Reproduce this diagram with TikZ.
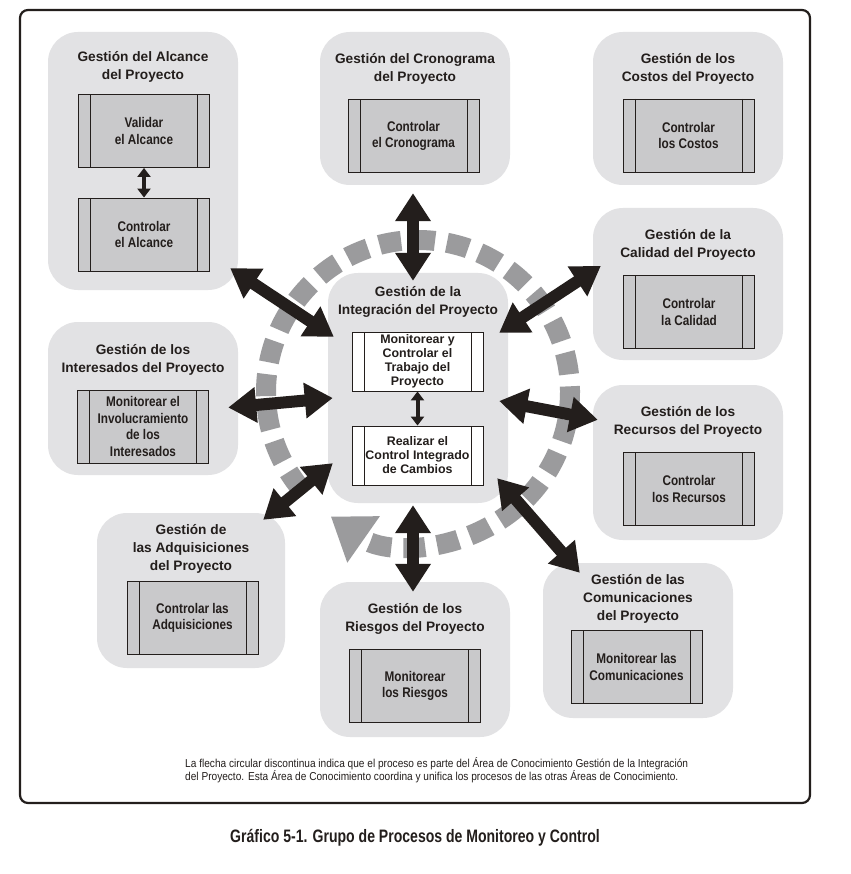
\documentclass[tikz,border=0pt]{standalone}
\usepackage{fontspec}
\setmainfont{Liberation Sans}
\newfontfamily\procfont{Liberation Sans}[FakeStretch=0.84]
\newfontfamily\notefont{Liberation Sans}[FakeStretch=0.88]
\newfontfamily\capfont{Liberation Sans}[FakeStretch=0.78]
\usetikzlibrary{positioning,arrows.meta,calc}

\definecolor{areafill}{RGB}{226,226,228}
\definecolor{procfill}{RGB}{201,201,203}
\definecolor{ringgray}{RGB}{155,155,157}
\definecolor{ink}{RGB}{35,30,28}

\begin{document}
\begin{tikzpicture}[x=1pt, y=-1pt,
    area/.style={fill=areafill, rounded corners=30pt, inner sep=0, minimum width=190pt},
    title/.style={font=\bfseries\fontsize{13.7}{18}\selectfont, text=ink, align=center, inner sep=0},
    proc/.style={draw=ink, line width=0.9pt, fill=procfill, minimum width=131pt, minimum height=73pt,
                 inner sep=0, align=center, text=ink, font=\procfont\bfseries\fontsize{14}{16.5}\selectfont,
                 path picture={\draw[ink, line width=0.9pt]
                     ([xshift=12pt]path picture bounding box.north west) -- ([xshift=12pt]path picture bounding box.south west)
                     ([xshift=-12pt]path picture bounding box.north east) -- ([xshift=-12pt]path picture bounding box.south east);}},
    intproc/.style={proc, fill=white, minimum height=59pt, font=\bfseries\fontsize{12.4}{14}\selectfont},
    bigarrow/.style={draw=ink, line width=12pt, {Triangle[length=28pt,width=34pt]}-{Triangle[length=28pt,width=34pt]}},
    smallarrow/.style={draw=ink, line width=4pt, {Triangle[length=9pt,width=13pt]}-{Triangle[length=9pt,width=13pt]}}]

    \useasboundingbox (0,0) rectangle (850,874);
    \fill[white] (0,0) rectangle (850,874);
    \draw[ink, line width=2.2pt, rounded corners=8pt] (20,10) rectangle (810,803);

    % dashed ring of the integration area
    \coordinate (hub) at (418,392);
    \draw[ringgray, line width=20pt, dash pattern=on 22pt off 12pt, -{Triangle[length=40pt,width=54pt]}]
        (hub) ++(140:152) arc[start angle=140, end angle=485, radius=152];

    % knowledge areas
    \node (alcance) [area, minimum height=258pt] at (143,161) {};
    \node [title, below=19pt of alcance.north] {Gestión del Alcance\\del Proyecto};
    \node (valalc) [proc] at (144,131) {Validar\\el Alcance};
    \node (ctlalc) [proc] at (144,234.5) {Controlar\\el Alcance};

    \node (crono) [area, minimum height=153pt] at (415,108.5) {};
    \node [title, below=21pt of crono.north] {Gestión del Cronograma\\del Proyecto};
    \node (ctlcrono) [proc] at (413.5,136) {Controlar\\el Cronograma};

    \node (costos) [area, minimum height=153pt] at (688,108.5) {};
    \node [title, below=21pt of costos.north] {Gestión de los\\Costos del Proyecto};
    \node (ctlcostos) [proc] at (688.5,135.5) {Controlar\\los Costos};

    \node (calidad) [area, minimum height=152pt] at (688,284) {};
    \node [title, below=21pt of calidad.north] {Gestión de la\\Calidad del Proyecto};
    \node (ctlcal) [proc] at (689,312) {Controlar\\la Calidad};

    \node (interes) [area, minimum height=153pt] at (143,398.5) {};
    \node [title, below=22pt of interes.north] {Gestión de los\\Interesados del Proyecto};
    \node (monint) [proc] at (143,426.5) {Monitorear el\\Involucramiento\\de los\\Interesados};

    \node (recursos) [area, minimum height=155pt] at (688,462.5) {};
    \node [title, below=21pt of recursos.north] {Gestión de los\\Recursos del Proyecto};
    \node (ctlrec) [proc] at (689,489) {Controlar\\los Recursos};

    \node (adquis) [area, minimum width=188pt, minimum height=155pt] at (191,590.5) {};
    \node [title, below=11pt of adquis.north] {Gestión de\\las Adquisiciones\\del Proyecto};
    \node (ctladq) [proc] at (192.5,618) {Controlar las\\Adquisiciones};

    \node (riesgos) [area, minimum height=155pt] at (415,659.5) {};
    \node [title, below=21pt of riesgos.north] {Gestión de los\\Riesgos del Proyecto};
    \node (monries) [proc] at (415,686) {Monitorear\\los Riesgos};

    \node (comun) [area, minimum height=155pt] at (638,640.5) {};
    \node [title, below=11pt of comun.north] {Gestión de las\\Comunicaciones\\del Proyecto};
    \node (moncom) [proc] at (636.5,667) {Monitorear las\\Comunicaciones};

    % integration area in the middle
    \node (integ) [area, minimum width=180pt, minimum height=230pt] at (418,388) {};
    \node [title, below=13pt of integ.north] {Gestión de la\\Integración del Proyecto};
    \node (montrab) [intproc] at (417.5,361.5) {Monitorear y\\Controlar el\\Trabajo del\\Proyecto};
    \node (ctlint) [intproc] at (417.5,455.5) {Realizar el\\Control Integrado\\de Cambios};

    \draw[smallarrow] (valalc) -- (ctlalc);
    \draw[smallarrow] (montrab) -- (ctlint);

    \draw[bigarrow] ($(alcance.south east)+(-8,-22)$) -- ($(integ.north west)+(6,64)$);
    \draw[bigarrow] ($(crono.south)+(-2,8)$) -- ($(integ.north)+(-5,8)$);
    \draw[bigarrow] ($(calidad.west)+(8,-18)$) -- ($(integ.north east)+(-9,60)$);
    \draw[bigarrow] ($(interes.east)+(-10,9)$) -- ($(integ.west)+(5,10)$);
    \draw[bigarrow] ($(integ.east)+(-9,13)$) -- ($(recursos.north west)+(5,35)$);
    \draw[bigarrow] ($(integ.south east)+(-11,-25)$) -- ($(comun.north west)+(37,10)$);
    \draw[bigarrow] ($(integ.south)+(-5,2)$) -- ($(riesgos.north)+(-2,10)$);
    \draw[bigarrow] ($(adquis.north east)+(-22,7)$) -- ($(integ.south west)+(5,-40)$);

    \node (nota) [anchor=north west, align=left, inner sep=0, text=ink, font=\notefont\fontsize{11.5}{13}\selectfont]
        at (185,757) {La flecha circular discontinua indica que el proceso es parte del Área de Conocimiento Gestión de la Integración\\
        del Proyecto. Esta Área de Conocimiento coordina y unifica los procesos de las otras Áreas de Conocimiento.};
    \node (grafico) [text=ink, inner sep=0, font=\capfont\bfseries\fontsize{18}{21}\selectfont]
        at (415,838) {Gráfico 5-1. Grupo de Procesos de Monitoreo y Control};
\end{tikzpicture}
\end{document}
